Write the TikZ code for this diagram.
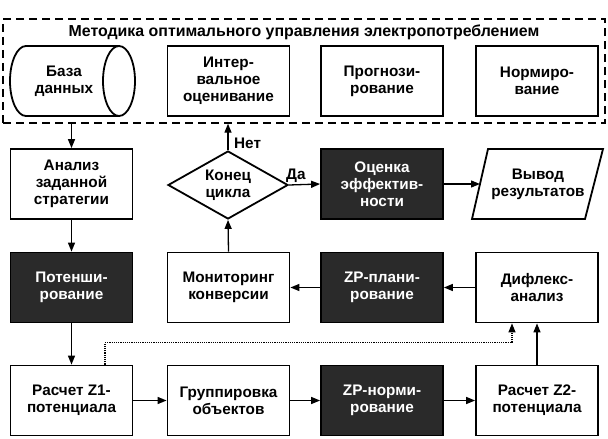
\documentclass[tikz,border=0pt]{standalone}
\usepackage{fontspec}
\setmainfont{Liberation Sans}
\usetikzlibrary{shapes.geometric,arrows.meta,calc}
\definecolor{darkbox}{HTML}{2A2A2A}
\tikzset{
  txt/.style={font=\bfseries\fontsize{15.3}{17}\selectfont},
  box/.style={draw, line width=1.8pt, minimum width=122pt, minimum height=70pt, inner sep=0pt, align=center, txt, fill=white},
  dbox/.style={box, fill=darkbox, text=white},
  lbl/.style={txt, inner sep=1pt},
  arr/.style={line width=1.3pt, -{Triangle[length=9pt,width=7pt]}},
  dotarr/.style={line width=1.2pt, densely dotted, -{Triangle[length=9pt,width=7pt]}}
}
\begin{document}
\begin{tikzpicture}[x=1pt,y=-1pt]
\useasboundingbox (0,0) rectangle (608,439);
% frame
\node (frame) [draw, dashed, dash pattern=on 8pt off 5pt, line width=1.4pt, minimum width=602pt, minimum height=104pt, inner sep=0pt] at (304,71) {};
\node (title) [lbl, font=\bfseries\fontsize{15.9}{17}\selectfont] at (304,32) {Методика оптимального управления электропотреблением};
% database cylinder
\draw[line width=1.8pt, fill=white] (119,46) -- (26,46) arc[start angle=90, end angle=270, x radius=16pt, y radius=35pt] -- (119,116);
\draw[line width=1.8pt, fill=white] (119,81) ellipse [x radius=16pt, y radius=35pt];
\node (db) [lbl, align=center] at (64,81) {База\\данных};
\node (int) [box] at (228.5,81) {Интер-\\вальное\\оценивание};
\node (prog) [box] at (382,81) {Прогнози-\\рование};
\node (norm) [box] at (537,81) {Нормиро-\\вание};
% row 2
\node (ana) [box] at (71.5,184) {Анализ\\заданной\\стратегии};
\node (dia) [draw, diamond, line width=1.8pt, minimum width=120pt, minimum height=68pt, inner sep=0pt, aspect=1.76, align=center, txt] at (228,185) {Конец\\цикла};
\node (eff) [dbox] at (382,184) {Оценка\\эффектив-\\ности};
\draw[line width=1.8pt] (488,149) -- (603,149) -- (585,219) -- (472,219) -- cycle;
\coordinate (outw) at (480,184);
\node (out) [lbl, align=center] at (538,184) {Вывод\\результатов};
% row 3
\node (pot) [dbox] at (71.5,287.5) {Потенши-\\рование};
\node (mon) [box] at (228.5,287.5) {Мониторинг\\конверсии};
\node (zpp) [dbox] at (382,287.5) {ZP-плани-\\рование};
\node (dif) [box] at (537,287.5) {Дифлекс-\\анализ};
% row 4
\node (z1) [box] at (71.5,400.5) {Расчет Z1-\\потенциала};
\node (grp) [box] at (228.5,400.5) {Группировка\\объектов};
\node (zpn) [dbox] at (382,400.5) {ZP-норми-\\рование};
\node (z2) [box] at (537,400.5) {Расчет Z2-\\потенциала};
% connectors
\draw[arr] (frame.south -| ana.north) -- (ana.north);
\draw[arr] (dia.north) -- (dia.north |- frame.south);
\node (no) [lbl, anchor=west] at (233,143) {Нет};
\draw[arr] (dia.east) -- (eff.west);
\node (yes) [lbl, anchor=south west] at (285,184) {Да};
\draw[arr] (eff.east) -- (outw);
\draw[arr] (ana.south) -- (pot.north);
\draw[arr] (mon.north) -- (dia.south);
\draw[arr] (dif.west) -- (zpp.east);
\draw[arr] (zpp.west) -- (mon.east);
\draw[arr] (pot.south) -- (z1.north);
\draw[arr] (z1.east) -- (grp.west);
\draw[arr] (grp.east) -- (zpn.west);
\draw[arr] (zpn.east) -- (z2.west);
\draw[arr] (z2.north) -- (dif.south);
\draw[dotarr] ([xshift=33.5pt]z1.north) -- ++(0,22pt) -| ([xshift=-25pt]dif.south);
\end{tikzpicture}
\end{document}
